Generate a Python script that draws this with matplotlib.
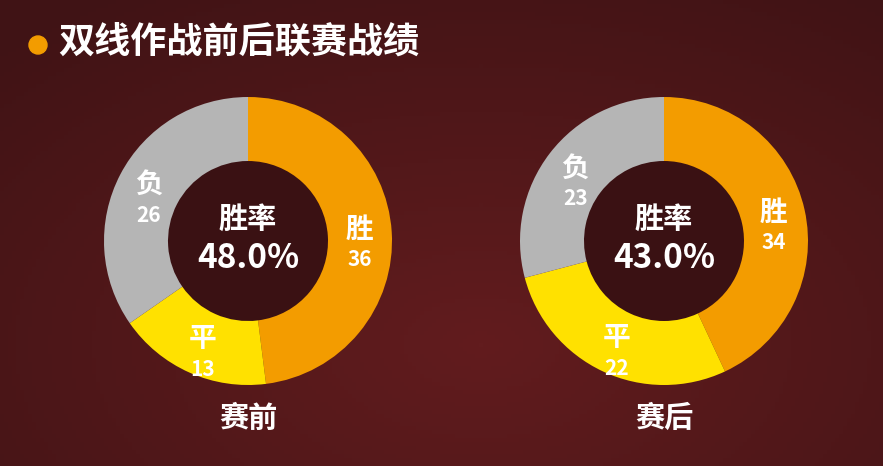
import numpy as np
import matplotlib.pyplot as plt
from matplotlib.patches import Circle

plt.rcParams['font.family'] = ['Noto Sans CJK SC', 'DejaVu Sans']

title = '双线作战前后联赛战绩'
categories = ['胜', '平', '负']
groups = ['赛前', '赛后']
before = [36, 13, 26]
after = [34, 22, 23]
win_rates = ['48.0%', '43.0%']
colors = ['#F39C00', '#FFE100', '#B5B5B5']

W, H = 883, 466
fig = plt.figure(figsize=(W / 100, H / 100), dpi=100)
ax = fig.add_axes([0, 0, 1, 1])
ax.set_xlim(0, W)
ax.set_ylim(0, H)
ax.set_aspect('equal')
ax.axis('off')

# background: dark red, a bit lighter towards the upper middle
yy, xx = np.mgrid[0:H:4, 0:W:4]
d = np.sqrt(((xx - 480) / 700.0) ** 2 + ((yy - 120) / 420.0) ** 2)
d = np.clip(d, 0, 1)[..., None]
c1 = np.array([0x62, 0x1c, 0x1e]) / 255.0
c2 = np.array([0x40, 0x13, 0x15]) / 255.0
bg = c1 * (1 - d) + c2 * d
ax.imshow(bg, extent=[0, W, H, 0], origin='upper', zorder=0)
ax.set_ylim(0, H)

# title
ax.add_patch(Circle((38, H - 45), 9, color='#F39C00', zorder=3))
ax.text(58, H - 42, title, fontsize=26, fontweight='bold', color='white',
        va='center', ha='left', zorder=3)

centers = [(248, H - 241), (664, H - 241)]
r_out, r_in = 144, 80
for (cx, cy), vals, rate, grp in zip(centers, [before, after], win_rates, groups):
    ax.add_patch(Circle((cx, cy), r_in, color='#3a1113', zorder=1))
    wedges, _ = ax.pie(vals, colors=colors, startangle=90, counterclock=False,
                       center=(cx, cy), radius=r_out,
                       wedgeprops=dict(width=r_out - r_in, linewidth=0))
    ax.set_xlim(0, W)
    ax.set_ylim(0, H)
    total = sum(vals)
    cum = 0
    rm = (r_out + r_in) / 2
    for cat, v in zip(categories, vals):
        mid = 90 - 360 * (cum + v / 2) / total
        cum += v
        lx = cx + rm * np.cos(np.radians(mid))
        ly = cy + rm * np.sin(np.radians(mid)) - 10
        ax.text(lx, ly + 14, cat, fontsize=20, fontweight='bold', color='white',
                ha='center', va='center', zorder=4)
        ax.text(lx, ly - 16, str(v), fontsize=15, fontweight='bold', color='white',
                ha='center', va='center', zorder=4)
    ax.text(cx, cy + 22, '胜率', fontsize=21, fontweight='bold', color='white',
            ha='center', va='center', zorder=4)
    ax.text(cx, cy - 18, rate, fontsize=24, fontweight='bold', color='white',
            ha='center', va='center', zorder=4)
    ax.text(cx, H - 418, grp, fontsize=21, fontweight='bold', color='white',
            ha='center', va='center', zorder=4)

ax.set_aspect('equal')
fig.savefig('out.png', dpi=100)
